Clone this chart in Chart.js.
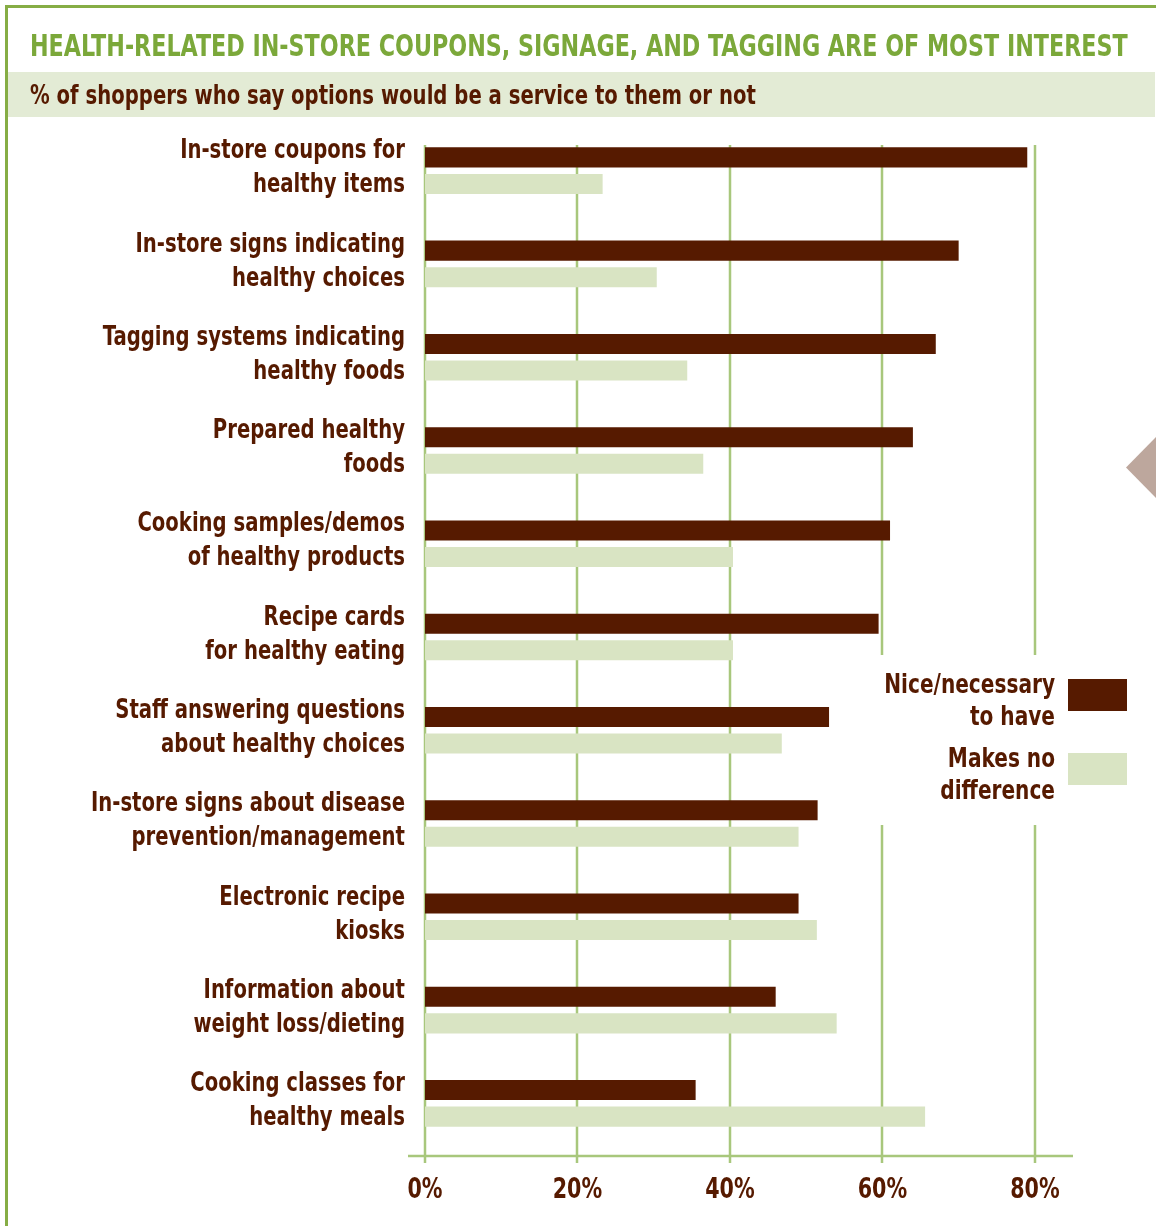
<!DOCTYPE html>
<html>
<head>
<meta charset="utf-8">
<title>Health-related in-store options</title>
<script src="https://cdn.jsdelivr.net/npm/chart.js@4.4.1/dist/chart.umd.min.js"></script>
<style>
    html, body { margin: 0; padding: 0; background: #fff; }
    #wrap {
        position: relative;
        width: 1156px;
        height: 1226px;
        overflow: hidden;
        font-family: "DejaVu Sans Condensed", "DejaVu Sans", sans-serif;
        font-weight: bold;
    }
    #frame {
        position: absolute;
        left: 5px; top: 5px; width: 1148px; height: 1240px;
        border-left: 3px solid #86ad45;
        border-top: 3px solid #86ad45;
        border-right: 1px solid #d3dfbf;
    }
    #subband {
        position: absolute;
        left: 8px; top: 72px; width: 1147px; height: 45px;
        background: #e3ebd5;
    }
    #title {
        position: absolute;
        left: 30px; top: 26px;
        font-size: 31px; line-height: 38px;
        color: #7ba83a;
        white-space: nowrap;
        transform-origin: 0 50%;
    }
    #subtitle {
        position: absolute;
        left: 30px; top: 73px;
        font-size: 26px; line-height: 45px;
        color: #561a00;
        white-space: nowrap;
        transform-origin: 0 50%;
    }
    #tab {
        position: absolute;
        left: 1126px; top: 437px; width: 30px; height: 61px;
        background: #bda79d;
        clip-path: polygon(0 50%, 100% 0, 100% 100%);
    }
    #chartBox { position: absolute; left: 0; top: 0; width: 1156px; height: 1226px; }
</style>
</head>
<body>
<div id="wrap">
    <div id="frame"></div>
    <div id="subband"></div>
    <div id="chartBox"><canvas id="chart" width="1156" height="1226"></canvas></div>
    <div id="title">HEALTH-RELATED IN-STORE COUPONS, SIGNAGE, AND TAGGING ARE OF MOST INTEREST</div>
    <div id="subtitle">% of shoppers who say options would be a service to them or not</div>
    <div id="tab"></div>
</div>
<script>
const categories = [
    ['In-store coupons for', 'healthy items'],
    ['In-store signs indicating', 'healthy choices'],
    ['Tagging systems indicating', 'healthy foods'],
    ['Prepared healthy', 'foods'],
    ['Cooking samples/demos', 'of healthy products'],
    ['Recipe cards', 'for healthy eating'],
    ['Staff answering questions', 'about healthy choices'],
    ['In-store signs about disease', 'prevention/management'],
    ['Electronic recipe', 'kiosks'],
    ['Information about', 'weight loss/dieting'],
    ['Cooking classes for', 'healthy meals']
];
const niceToHave = [79, 70, 67, 64, 61, 59.5, 53, 51.5, 49, 46, 35.5];
const noDifference = [23.3, 30.4, 34.4, 36.5, 40.4, 40.4, 46.8, 49, 51.4, 54, 65.6];
const seriesNames = [['Nice/necessary', 'to have'], ['Makes no', 'difference']];
const xTicks = [0, 20, 40, 60, 80];

const BROWN = '#561a00';
const PALE = '#d9e4c3';
const GRID = '#a8c77c';
const FONT = '"DejaVu Sans Condensed", "DejaVu Sans", sans-serif';

// the original uses a narrow face; squeeze the available condensed one to the same width
function fitWidth(el, target) {
    el.style.transform = 'scaleX(' + (target / el.scrollWidth) + ')';
}
fitWidth(document.getElementById('title'), 1098);
fitWidth(document.getElementById('subtitle'), 726);

function narrowText(c, text, x, y, squeeze) {
    c.save();
    c.translate(x, y);
    c.scale(squeeze, 1);
    c.fillText(text, 0, 0);
    c.restore();
}

// grid lines and base axis, drawn longer than the plot area like the original
const gridPlugin = {
    id: 'gridLines',
    beforeDatasetsDraw(chart) {
        const c = chart.ctx;
        const x = chart.scales.x;
        c.save();
        c.strokeStyle = GRID;
        c.lineWidth = 2.5;
        xTicks.forEach(t => {
            const px = Math.round(x.getPixelForValue(t));
            c.beginPath();
            c.moveTo(px, 145);
            c.lineTo(px, 1163);
            c.stroke();
        });
        c.beginPath();
        c.moveTo(x.getPixelForValue(0) - 17, 1156);
        c.lineTo(x.right, 1156);
        c.stroke();
        c.restore();
    }
};

// tick labels in the narrow style, placed from the scales
const labelPlugin = {
    id: 'narrowLabels',
    afterDraw(chart) {
        const c = chart.ctx;
        const x = chart.scales.x;
        const y = chart.scales.y;
        c.save();
        c.fillStyle = BROWN;
        c.textBaseline = 'middle';

        c.font = 'bold 26px ' + FONT;
        c.textAlign = 'right';
        chart.data.labels.forEach((lines, i) => {
            const cy = y.getPixelForTick(i) - 2;
            lines.forEach((line, j) => {
                narrowText(c, line, 405, cy + (j - (lines.length - 1) / 2) * 34, 0.84);
            });
        });

        c.font = 'bold 28px ' + FONT;
        c.textAlign = 'center';
        xTicks.forEach(v => {
            narrowText(c, v + '%', x.getPixelForValue(v), 1191, 0.82);
        });
        c.restore();
    }
};

// legend on white panel, text to the left of the swatch
const legendPlugin = {
    id: 'sideLegend',
    afterDatasetsDraw(chart) {
        const c = chart.ctx;
        c.save();
        c.fillStyle = '#fff';
        c.fillRect(870, 655, 280, 170);
        c.font = 'bold 26px ' + FONT;
        c.textAlign = 'right';
        c.textBaseline = 'middle';
        const tops = [679, 753];
        chart.data.datasets.forEach((ds, i) => {
            c.fillStyle = ds.backgroundColor;
            c.fillRect(1068, tops[i], 59, 32);
            c.fillStyle = BROWN;
            seriesNames[i].forEach((line, j) => {
                narrowText(c, line, 1055, tops[i] + 7 + j * 32, 0.86);
            });
        });
        c.restore();
    }
};

const chart = new Chart(document.getElementById('chart'), {
    type: 'bar',
    data: {
        labels: categories,
        datasets: [
            { label: 'Nice/necessary to have', data: niceToHave, backgroundColor: BROWN },
            { label: 'Makes no difference', data: noDifference, backgroundColor: PALE }
        ]
    },
    options: {
        indexAxis: 'y',
        responsive: false,
        animation: false,
        events: [],
        categoryPercentage: 0.569,
        barPercentage: 0.755,
        layout: { padding: { left: 0, right: 83, top: 124, bottom: 0 } },
        plugins: {
            legend: { display: false },
            title: { display: false },
            tooltip: { enabled: false }
        },
        scales: {
            x: {
                min: 0,
                max: 85,
                afterBuildTicks: s => { s.ticks = xTicks.map(v => ({ value: v })); },
                afterFit: s => { s.height = 76; },
                grid: { display: false, drawTicks: false },
                border: { display: false },
                ticks: { display: false }
            },
            y: {
                afterFit: s => { s.width = 425; },
                grid: { display: false, drawTicks: false },
                border: { display: false },
                ticks: { display: false }
            }
        }
    },
    plugins: [gridPlugin, legendPlugin, labelPlugin]
});
</script>
</body>
</html>
